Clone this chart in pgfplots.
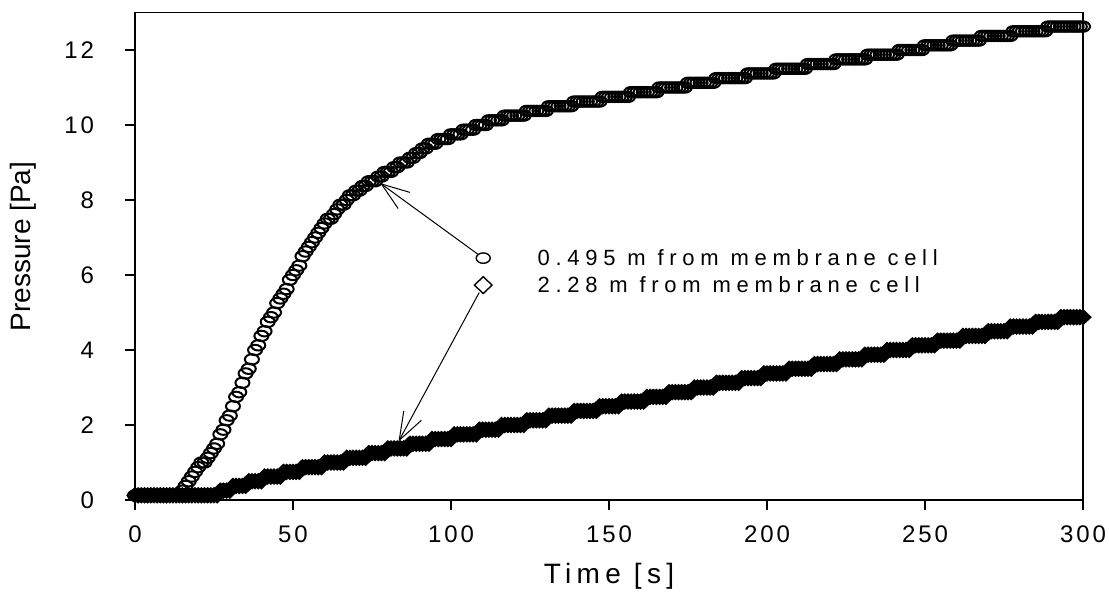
\documentclass[border=0pt]{standalone}
\usepackage{fontspec}
\setmainfont{Liberation Sans}
\newfontfamily\tickfont[LetterSpace=12]{Liberation Sans}
\newfontfamily\legfont[LetterSpace=26]{Liberation Sans}
\newfontfamily\labfont[LetterSpace=19]{Liberation Sans}
\usepackage{pgfplots}
\pgfplotsset{compat=1.18}
\usepackage{pgfplotstable}
\usetikzlibrary{arrows.meta}

% 0.495 m from membrane cell (circles)
\pgfplotstableread[row sep=\\]{
t p\\
0 0.125\\ 1 0.125\\ 2 0.125\\ 3 0.125\\ 4 0.125\\ 5 0.125\\ 6 0.125\\ 7 0.125\\ 8 0.125\\ 9 0.125\\
10 0.125\\ 11 0.125\\ 12 0.125\\ 13 0.125\\ 14 0.125\\ 15 0.25\\ 16 0.375\\ 17 0.5\\ 18 0.625\\ 19 0.75\\
20 0.875\\ 21 1.0\\ 22 1.0\\ 23 1.125\\ 24 1.25\\ 25 1.375\\ 26 1.5\\ 27 1.75\\ 28 1.875\\ 29 2.125\\
30 2.25\\ 31 2.5\\ 32 2.75\\ 33 2.875\\ 34 3.125\\ 35 3.375\\ 36 3.5\\ 37 3.75\\ 38 4.0\\ 39 4.125\\
40 4.375\\ 41 4.5\\ 42 4.75\\ 43 4.875\\ 44 5.0\\ 45 5.25\\ 46 5.375\\ 47 5.5\\ 48 5.625\\ 49 5.875\\
50 6.0\\ 51 6.125\\ 52 6.25\\ 53 6.5\\ 54 6.625\\ 55 6.75\\ 56 6.875\\ 57 7.0\\ 58 7.125\\ 59 7.25\\
60 7.375\\ 61 7.5\\ 62 7.5\\ 63 7.625\\ 64 7.75\\ 65 7.875\\ 66 7.875\\ 67 8.0\\ 68 8.125\\ 69 8.125\\
70 8.25\\ 71 8.25\\ 72 8.375\\ 73 8.375\\ 74 8.5\\ 75 8.5\\ 76 8.5\\ 77 8.625\\ 78 8.625\\ 79 8.75\\
80 8.75\\ 81 8.75\\ 82 8.875\\ 83 8.875\\ 84 9.0\\ 85 9.0\\ 86 9.0\\ 87 9.125\\ 88 9.125\\ 89 9.25\\
90 9.25\\ 91 9.375\\ 92 9.375\\ 93 9.5\\ 94 9.5\\ 95 9.5\\ 96 9.625\\ 97 9.625\\ 98 9.625\\ 99 9.625\\
100 9.75\\ 101 9.75\\ 102 9.75\\ 103 9.75\\ 104 9.875\\ 105 9.875\\ 106 9.875\\ 107 9.875\\ 108 10.0\\ 109 10.0\\
110 10.0\\ 111 10.0\\ 112 10.125\\ 113 10.125\\ 114 10.125\\ 115 10.125\\ 116 10.125\\ 117 10.25\\ 118 10.25\\ 119 10.25\\
120 10.25\\ 121 10.25\\ 122 10.25\\ 123 10.25\\ 124 10.375\\ 125 10.375\\ 126 10.375\\ 127 10.375\\ 128 10.375\\ 129 10.375\\
130 10.375\\ 131 10.5\\ 132 10.5\\ 133 10.5\\ 134 10.5\\ 135 10.5\\ 136 10.5\\ 137 10.5\\ 138 10.5\\ 139 10.625\\
140 10.625\\ 141 10.625\\ 142 10.625\\ 143 10.625\\ 144 10.625\\ 145 10.625\\ 146 10.625\\ 147 10.625\\ 148 10.75\\ 149 10.75\\
150 10.75\\ 151 10.75\\ 152 10.75\\ 153 10.75\\ 154 10.75\\ 155 10.75\\ 156 10.75\\ 157 10.875\\ 158 10.875\\ 159 10.875\\
160 10.875\\ 161 10.875\\ 162 10.875\\ 163 10.875\\ 164 10.875\\ 165 10.875\\ 166 11.0\\ 167 11.0\\ 168 11.0\\ 169 11.0\\
170 11.0\\ 171 11.0\\ 172 11.0\\ 173 11.0\\ 174 11.0\\ 175 11.125\\ 176 11.125\\ 177 11.125\\ 178 11.125\\ 179 11.125\\
180 11.125\\ 181 11.125\\ 182 11.125\\ 183 11.125\\ 184 11.25\\ 185 11.25\\ 186 11.25\\ 187 11.25\\ 188 11.25\\ 189 11.25\\
190 11.25\\ 191 11.25\\ 192 11.25\\ 193 11.25\\ 194 11.375\\ 195 11.375\\ 196 11.375\\ 197 11.375\\ 198 11.375\\ 199 11.375\\
200 11.375\\ 201 11.375\\ 202 11.375\\ 203 11.5\\ 204 11.5\\ 205 11.5\\ 206 11.5\\ 207 11.5\\ 208 11.5\\ 209 11.5\\
210 11.5\\ 211 11.5\\ 212 11.5\\ 213 11.625\\ 214 11.625\\ 215 11.625\\ 216 11.625\\ 217 11.625\\ 218 11.625\\ 219 11.625\\
220 11.625\\ 221 11.625\\ 222 11.75\\ 223 11.75\\ 224 11.75\\ 225 11.75\\ 226 11.75\\ 227 11.75\\ 228 11.75\\ 229 11.75\\
230 11.75\\ 231 11.75\\ 232 11.875\\ 233 11.875\\ 234 11.875\\ 235 11.875\\ 236 11.875\\ 237 11.875\\ 238 11.875\\ 239 11.875\\
240 11.875\\ 241 11.875\\ 242 12.0\\ 243 12.0\\ 244 12.0\\ 245 12.0\\ 246 12.0\\ 247 12.0\\ 248 12.0\\ 249 12.0\\
250 12.125\\ 251 12.125\\ 252 12.125\\ 253 12.125\\ 254 12.125\\ 255 12.125\\ 256 12.125\\ 257 12.125\\ 258 12.125\\ 259 12.25\\
260 12.25\\ 261 12.25\\ 262 12.25\\ 263 12.25\\ 264 12.25\\ 265 12.25\\ 266 12.25\\ 267 12.25\\ 268 12.375\\ 269 12.375\\
270 12.375\\ 271 12.375\\ 272 12.375\\ 273 12.375\\ 274 12.375\\ 275 12.375\\ 276 12.375\\ 277 12.375\\ 278 12.5\\ 279 12.5\\
280 12.5\\ 281 12.5\\ 282 12.5\\ 283 12.5\\ 284 12.5\\ 285 12.5\\ 286 12.5\\ 287 12.5\\ 288 12.5\\ 289 12.625\\
290 12.625\\ 291 12.625\\ 292 12.625\\ 293 12.625\\ 294 12.625\\ 295 12.625\\ 296 12.625\\ 297 12.625\\ 298 12.625\\ 299 12.625\\
300 12.625\\
}\circdata

% 2.28 m from membrane cell (diamonds)
\pgfplotstableread[row sep=\\]{
t p\\
0 0.125\\ 1 0.125\\ 2 0.125\\ 3 0.125\\ 4 0.125\\ 5 0.125\\ 6 0.125\\ 7 0.125\\ 8 0.125\\ 9 0.125\\
10 0.125\\ 11 0.125\\ 12 0.125\\ 13 0.125\\ 14 0.125\\ 15 0.125\\ 16 0.125\\ 17 0.125\\ 18 0.125\\ 19 0.125\\
20 0.125\\ 21 0.125\\ 22 0.125\\ 23 0.125\\ 24 0.125\\ 25 0.125\\ 26 0.125\\ 27 0.25\\ 28 0.25\\ 29 0.25\\
30 0.25\\ 31 0.375\\ 32 0.375\\ 33 0.375\\ 34 0.375\\ 35 0.375\\ 36 0.5\\ 37 0.5\\ 38 0.5\\ 39 0.5\\
40 0.5\\ 41 0.625\\ 42 0.625\\ 43 0.625\\ 44 0.625\\ 45 0.625\\ 46 0.625\\ 47 0.75\\ 48 0.75\\ 49 0.75\\
50 0.75\\ 51 0.75\\ 52 0.75\\ 53 0.875\\ 54 0.875\\ 55 0.875\\ 56 0.875\\ 57 0.875\\ 58 0.875\\ 59 0.875\\
60 1.0\\ 61 1.0\\ 62 1.0\\ 63 1.0\\ 64 1.0\\ 65 1.0\\ 66 1.0\\ 67 1.125\\ 68 1.125\\ 69 1.125\\
70 1.125\\ 71 1.125\\ 72 1.125\\ 73 1.125\\ 74 1.25\\ 75 1.25\\ 76 1.25\\ 77 1.25\\ 78 1.25\\ 79 1.25\\
80 1.375\\ 81 1.375\\ 82 1.375\\ 83 1.375\\ 84 1.375\\ 85 1.375\\ 86 1.375\\ 87 1.5\\ 88 1.5\\ 89 1.5\\
90 1.5\\ 91 1.5\\ 92 1.5\\ 93 1.5\\ 94 1.625\\ 95 1.625\\ 96 1.625\\ 97 1.625\\ 98 1.625\\ 99 1.625\\
100 1.625\\ 101 1.75\\ 102 1.75\\ 103 1.75\\ 104 1.75\\ 105 1.75\\ 106 1.75\\ 107 1.75\\ 108 1.75\\ 109 1.875\\
110 1.875\\ 111 1.875\\ 112 1.875\\ 113 1.875\\ 114 1.875\\ 115 1.875\\ 116 2.0\\ 117 2.0\\ 118 2.0\\ 119 2.0\\
120 2.0\\ 121 2.0\\ 122 2.0\\ 123 2.0\\ 124 2.125\\ 125 2.125\\ 126 2.125\\ 127 2.125\\ 128 2.125\\ 129 2.125\\
130 2.125\\ 131 2.25\\ 132 2.25\\ 133 2.25\\ 134 2.25\\ 135 2.25\\ 136 2.25\\ 137 2.25\\ 138 2.25\\ 139 2.375\\
140 2.375\\ 141 2.375\\ 142 2.375\\ 143 2.375\\ 144 2.375\\ 145 2.375\\ 146 2.375\\ 147 2.5\\ 148 2.5\\ 149 2.5\\
150 2.5\\ 151 2.5\\ 152 2.5\\ 153 2.5\\ 154 2.625\\ 155 2.625\\ 156 2.625\\ 157 2.625\\ 158 2.625\\ 159 2.625\\
160 2.625\\ 161 2.625\\ 162 2.75\\ 163 2.75\\ 164 2.75\\ 165 2.75\\ 166 2.75\\ 167 2.75\\ 168 2.75\\ 169 2.875\\
170 2.875\\ 171 2.875\\ 172 2.875\\ 173 2.875\\ 174 2.875\\ 175 2.875\\ 176 2.875\\ 177 3.0\\ 178 3.0\\ 179 3.0\\
180 3.0\\ 181 3.0\\ 182 3.0\\ 183 3.0\\ 184 3.125\\ 185 3.125\\ 186 3.125\\ 187 3.125\\ 188 3.125\\ 189 3.125\\
190 3.125\\ 191 3.125\\ 192 3.25\\ 193 3.25\\ 194 3.25\\ 195 3.25\\ 196 3.25\\ 197 3.25\\ 198 3.25\\ 199 3.375\\
200 3.375\\ 201 3.375\\ 202 3.375\\ 203 3.375\\ 204 3.375\\ 205 3.375\\ 206 3.375\\ 207 3.5\\ 208 3.5\\ 209 3.5\\
210 3.5\\ 211 3.5\\ 212 3.5\\ 213 3.5\\ 214 3.5\\ 215 3.625\\ 216 3.625\\ 217 3.625\\ 218 3.625\\ 219 3.625\\
220 3.625\\ 221 3.625\\ 222 3.625\\ 223 3.75\\ 224 3.75\\ 225 3.75\\ 226 3.75\\ 227 3.75\\ 228 3.75\\ 229 3.75\\
230 3.75\\ 231 3.875\\ 232 3.875\\ 233 3.875\\ 234 3.875\\ 235 3.875\\ 236 3.875\\ 237 3.875\\ 238 4.0\\ 239 4.0\\
240 4.0\\ 241 4.0\\ 242 4.0\\ 243 4.0\\ 244 4.0\\ 245 4.0\\ 246 4.125\\ 247 4.125\\ 248 4.125\\ 249 4.125\\
250 4.125\\ 251 4.125\\ 252 4.125\\ 253 4.125\\ 254 4.25\\ 255 4.25\\ 256 4.25\\ 257 4.25\\ 258 4.25\\ 259 4.25\\
260 4.25\\ 261 4.25\\ 262 4.375\\ 263 4.375\\ 264 4.375\\ 265 4.375\\ 266 4.375\\ 267 4.375\\ 268 4.375\\ 269 4.375\\
270 4.5\\ 271 4.5\\ 272 4.5\\ 273 4.5\\ 274 4.5\\ 275 4.5\\ 276 4.5\\ 277 4.625\\ 278 4.625\\ 279 4.625\\
280 4.625\\ 281 4.625\\ 282 4.625\\ 283 4.625\\ 284 4.625\\ 285 4.75\\ 286 4.75\\ 287 4.75\\ 288 4.75\\ 289 4.75\\
290 4.75\\ 291 4.75\\ 292 4.75\\ 293 4.875\\ 294 4.875\\ 295 4.875\\ 296 4.875\\ 297 4.875\\ 298 4.875\\ 299 4.875\\
300 4.875\\
}\diadata

\begin{document}
\begin{tikzpicture}
\begin{axis}[
  at={(67.5pt,46.5pt)}, anchor=south west,
  scale only axis, width=474pt, height=243.75pt,
  xmin=0, xmax=300, ymin=0, ymax=13,
  xtick={0,50,...,300}, ytick={0,2,...,12},
  xtick pos=left, ytick pos=left, tick align=outside,
  major tick length=5pt,
  axis line style={line width=0.8pt},
  every tick/.style={black, line width=0.7pt},
  /pgf/number format/assume math mode=true,
  tick label style={font=\tickfont\fontsize{12}{14}\selectfont},
  yticklabel style={xshift=-12pt},
  xticklabel style={yshift=-4.5pt},
  xlabel={Time [s]}, ylabel={Pressure [Pa]},
  xlabel style={font=\labfont\fontsize{14}{16}\selectfont, at={(axis description cs:0.5,-0.156)}, anchor=center},
  ylabel style={font=\fontsize{14}{16}\selectfont, at={(axis description cs:-0.1181,0.52)}, anchor=center},
  clip=false,
]
\addplot[only marks, mark=diamond*, mark size=3.9pt,
  mark options={xscale=1.4, fill=black, draw=black, line width=0.4pt}] table[x=t, y=p] {\diadata};
\addplot[only marks, mark=o, mark size=2.6pt,
  mark options={xscale=1.35, draw=black, line width=1.0pt}] table[x=t, y=p] {\circdata};
% legend markers
\addplot[only marks, mark=o, mark size=2.6pt,
  mark options={xscale=1.35, draw=black, line width=0.7pt}] coordinates {(110.2,6.45)};
\addplot[only marks, mark=diamond, mark size=4.2pt,
  mark options={xscale=1.4, draw=black, line width=0.7pt}] coordinates {(110.2,5.73)};
% arrows
\draw[line width=0.5pt, -{Straight Barb[length=14pt,width=10pt]}, shorten <=3.5pt]
  (axis cs:110.2,6.45) -- (axis cs:77.6,8.45);
\draw[line width=0.5pt, -{Straight Barb[length=14pt,width=10pt]}, shorten <=4.2pt]
  (axis cs:110.2,5.73) -- (axis cs:83.4,1.56);
% legend text
\node[anchor=west, inner sep=0pt, font=\legfont\fontsize{11}{13}\selectfont] at (axis cs:127.3,6.45) {0.495 m from membrane cell};
\node[anchor=west, inner sep=0pt, font=\legfont\fontsize{11}{13}\selectfont] at (axis cs:127.3,5.73) {2.28 m from membrane cell};
\end{axis}
\pgfresetboundingbox
\useasboundingbox (0,0) rectangle (554.5pt,296.5pt);
\end{tikzpicture}
\end{document}
